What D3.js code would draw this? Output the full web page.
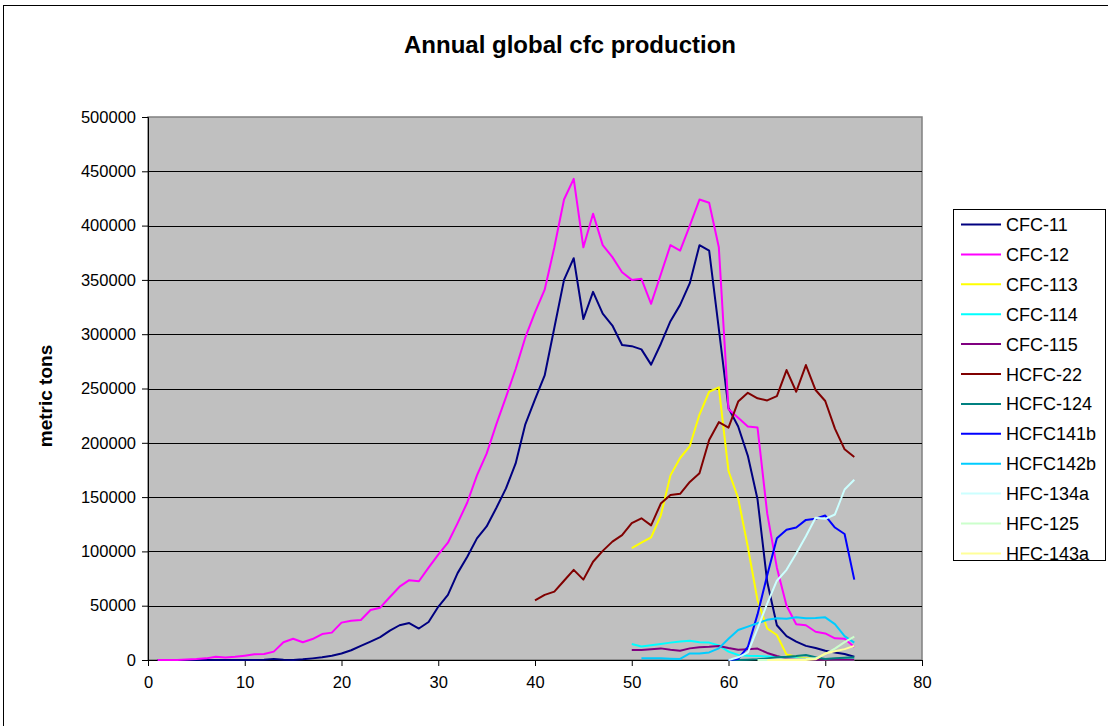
<!DOCTYPE html>
<html>
<head>
<meta charset="utf-8">
<script src="https://cdn.jsdelivr.net/npm/d3@7"></script>
<style>
  body { margin: 0; background: #fff; }
  svg text { font-family: Arial, "Liberation Sans", sans-serif; }
</style>
</head>
<body>
<div id="chart"></div>
<script>
/**
 * Chart data (x = year index, y = metric tons)
 */

const cfc11 = [0, 0, 0, 0, 0, 0, 0, 0, 0, 0, 0, 200, 1000, 300, 0, 600, 1500, 2500, 4000, 6000,
    9000, 13000, 17000, 21000, 27000, 32000, 34000, 29000, 35000, 49000, 60000, 80000, 95000, 112000, 123000,
    140000, 158000, 181000, 217000, 240000, 262000, 306000, 350000, 370000, 314000, 339000, 319000, 308000,
    290000, 289000, 286000, 272000, 291000, 312000, 327000, 347000, 382000, 377000, 305000, 232000, 215000,
    188000, 148000, 72000, 32000, 22000, 17000, 13000, 11000, 8500, 7000, 5500, 3000]
const cfc12 = [0, 0, 0, 500, 900, 1500, 3000, 2200, 3000, 4000, 5200, 5600, 7700, 16300, 19600, 16300,
    19300, 23900, 25200, 34400, 36200, 36800, 46000, 48200, 58000, 67500, 73500, 72500, 85000, 97000,
    108000, 126000, 145000, 170000, 190000, 217000, 242000, 268000, 297000, 320000, 341000, 380000, 424000,
    443000, 380000, 411000, 382000, 371000, 357000, 350000, 351000, 328000, 355000, 382000, 377000, 400000,
    424000, 421000, 380000, 231000, 223000, 215000, 214000, 135000, 85000, 50000, 33000, 32000, 26000,
    24500, 20000, 19500, 12000]
const cfc113 = [103000, 108000, 113000, 133000, 170000, 186000, 197000, 226000, 247000, 251000, 174000,
    149000, 104000, 55000, 29000, 23000, 5000, 3000, 1500, 1000, 500, 200, 200, 200]
const cfc114 = [14700, 12500, 13500, 14700, 16000, 17000, 17800, 16300, 16000, 13500, 7700, 4600, 4000,
    3700, 3300, 3000, 2000, 1500, 1000, 800, 600, 500, 500, 500]
const cfc115 = [9200, 9200, 10000, 10700, 9500, 8600, 10700, 11700, 12200, 12900, 11000, 9500, 10000,
    10500, 6500, 3700, 1500, 1000, 500, 300, 200, 200, 200, 200]
const hcfc22 = [55000, 60000, 63000, 73000, 83000, 74000, 90500, 100500, 109000, 115000, 126000, 130500,
    124000, 144000, 152000, 153000, 164000, 172000, 202600, 219000, 214000, 238000, 246000, 241000, 239000,
    243000, 267000, 247000, 271600, 248600, 238500, 213000, 194000, 187000]
const hcfc124 = [0, 0, 300, 600, 1500, 2500, 3000, 3700, 4600, 2500, 1000, 1500, 2000, 2500]
const hcfc141b = [0, 1000, 12000, 42000, 78000, 112000, 120000, 122000, 129000, 130000, 133000, 122000,
    116000, 74000]
const hcfc142b = [1500, 1500, 1500, 1200, 1000, 6000, 6000, 7000, 10700, 19500, 27600, 30700, 33800,
    37000, 38400, 38000, 39300, 38400, 38600, 39300, 33000, 22000, 16000]
const hfc134a = [0, 2500, 7000, 29000, 52000, 73000, 83000, 98000, 114000, 131000, 130000, 134000,
    157000, 166000]
const hfc125 = [0, 0, 300, 500, 800, 1000, 1500, 5500, 10500, 16500, 21500]
const hfc143a = [0, 0, 0, 0, 0, 600, 6000, 8000, 10000, 13000]

// first x of every series
const startX = [1, 1, 50, 50, 50, 40, 60, 60, 51, 60, 63, 64]
const seriesNames = ["CFC-11", "CFC-12", "CFC-113", "CFC-114", "CFC-115", "HCFC-22", "HCFC-124",
    "HCFC141b", "HCFC142b", "HFC-134a", "HFC-125", "HFC-143a"]
const seriesValues = [cfc11, cfc12, cfc113, cfc114, cfc115, hcfc22, hcfc124, hcfc141b, hcfc142b,
    hfc134a, hfc125, hfc143a]
const seriesColors = ["#000080", "#FF00FF", "#FFFF00", "#00FFFF", "#800080", "#800000", "#008080",
    "#0000FF", "#00CCFF", "#CCFFFF", "#CCFFCC", "#FFFF99"]

const xTicks = [0, 10, 20, 30, 40, 50, 60, 70, 80]
const yTicks = [0, 50000, 100000, 150000, 200000, 250000, 300000, 350000, 400000, 450000, 500000]

/**
 * Sizes
 */

const W = 1108, H = 726
const plot = { left: 148, top: 117, right: 922, bottom: 660 }

const svg = d3.select("#chart")
    .append("svg")
        .attr("width", W)
        .attr("height", H)

// outer chart frame
svg.append("rect")
    .attr("x", 3.5).attr("y", 5.5)
    .attr("width", W + 10).attr("height", H + 10)
    .attr("fill", "#fff")
    .attr("stroke", "#000")

const x = d3.scaleLinear().domain([0, 80]).range([plot.left, plot.right])
const y = d3.scaleLinear().domain([0, 500000]).range([plot.bottom, plot.top])

// plot area
svg.append("rect")
    .attr("x", plot.left).attr("y", plot.top)
    .attr("width", plot.right - plot.left).attr("height", plot.bottom - plot.top)
    .attr("fill", "#C0C0C0")
    .attr("stroke", "#808080")
    .attr("stroke-width", 1.5)

// gridlines
svg.append("g")
    .selectAll("line")
    .data(yTicks.slice(1, -1))
    .enter()
    .append("line")
        .attr("x1", plot.left).attr("x2", plot.right)
        .attr("y1", d => Math.round(y(d)) + 0.5)
        .attr("y2", d => Math.round(y(d)) + 0.5)
        .attr("stroke", "#000")

// axes
const yAxis = svg.append("g")
    .attr("transform", "translate(" + plot.left + ",0)")
    .call(d3.axisLeft(y).tickValues(yTicks).tickFormat(d3.format("d")).tickSize(6).tickPadding(6))
const xAxis = svg.append("g")
    .attr("transform", "translate(0," + plot.bottom + ")")
    .call(d3.axisBottom(x).tickValues(xTicks).tickFormat(d3.format("d")).tickSize(6).tickPadding(10))

;[xAxis, yAxis].forEach(g => {
    g.selectAll("text").attr("font-size", 16.5).attr("fill", "#000")
        .attr("font-family", "Arial, 'Liberation Sans', sans-serif")
    g.selectAll("line, path").attr("stroke", "#000")
})

// lines
const line = d3.line()
    .x(d => x(d[0]))
    .y(d => y(d[1]))

svg.append("g")
    .selectAll("path")
    .data(seriesValues.map((vals, i) => ({ i, pts: vals.map((v, k) => [startX[i] + k, v]) })))
    .enter()
    .append("path")
        .attr("d", d => line(d.pts))
        .attr("fill", "none")
        .attr("stroke", d => seriesColors[d.i])
        .attr("stroke-width", 2)
        .attr("stroke-linejoin", "round")

// title and axis label
svg.append("text")
    .attr("x", 570).attr("y", 53)
    .attr("text-anchor", "middle")
    .attr("font-size", 24).attr("font-weight", "bold")
    .text("Annual global cfc production")

svg.append("text")
    .attr("transform", "translate(52,396) rotate(-90)")
    .attr("text-anchor", "middle")
    .attr("font-size", 19).attr("font-weight", "bold")
    .text("metric tons")

// legend
const legend = svg.append("g")
legend.append("rect")
    .attr("x", 953.5).attr("y", 209.5)
    .attr("width", 152).attr("height", 351)
    .attr("fill", "#fff").attr("stroke", "#000")

const item = legend.selectAll("g.item")
    .data(seriesNames)
    .enter()
    .append("g")
        .attr("transform", (d, i) => "translate(0," + (224.5 + i * 29.9) + ")")
item.append("line")
    .attr("x1", 961).attr("x2", 1001)
    .attr("stroke", (d, i) => seriesColors[i])
    .attr("stroke-width", 2)
item.append("text")
    .attr("x", 1006).attr("y", 6.5)
    .attr("font-size", 18)
    .text(d => d)
</script>
</body>
</html>
